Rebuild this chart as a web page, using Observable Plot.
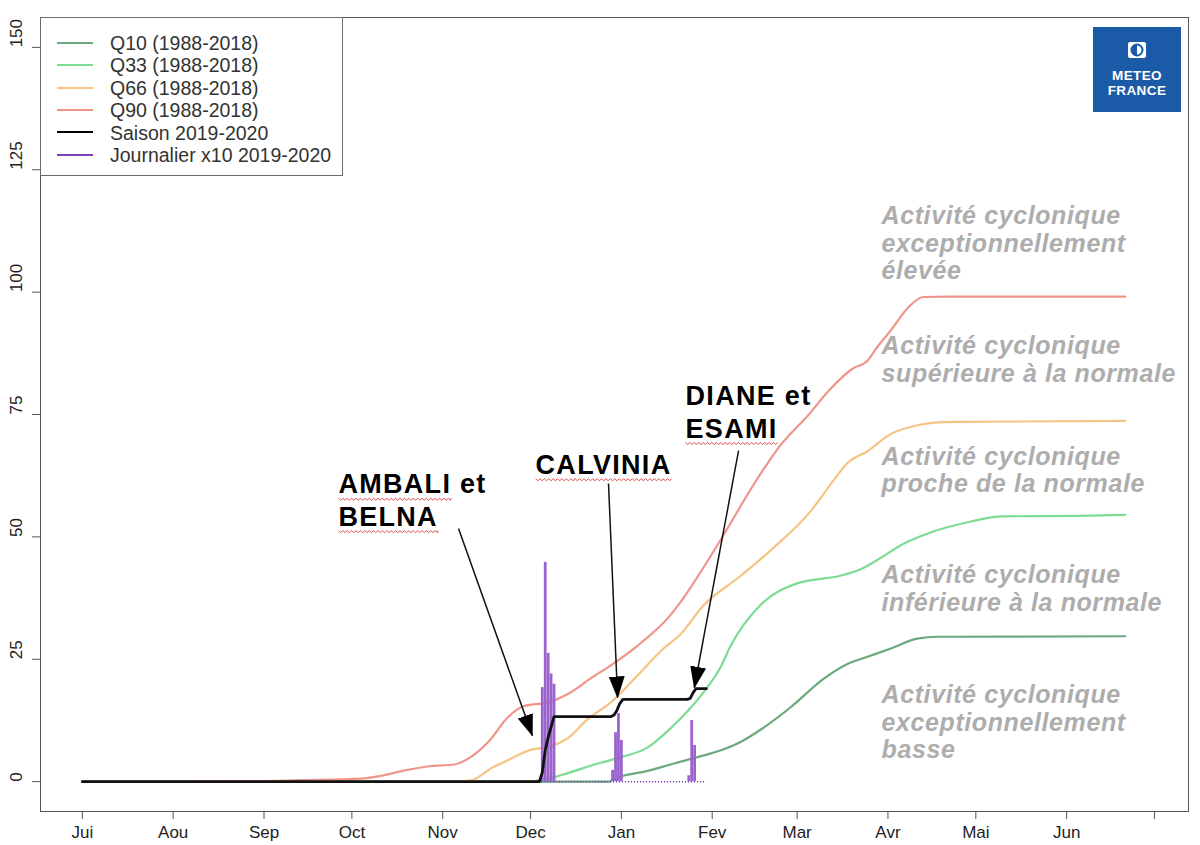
<!DOCTYPE html>
<html><head><meta charset="utf-8">
<script src="https://cdn.jsdelivr.net/npm/d3@7"></script>
<script src="https://cdn.jsdelivr.net/npm/@observablehq/plot@0.6"></script>
<style>
body{margin:0;background:#fff;}
#wrap{position:relative;width:1200px;height:845px;overflow:hidden;}
#legend{position:absolute;left:40px;top:17px;width:303px;height:159px;border:1px solid #6b6b6b;background:#fff;box-sizing:border-box;font-family:"Liberation Sans",Arial,sans-serif;font-size:19.5px;color:#333;}
.sw{position:absolute;left:16px;width:36px;height:0;border-top:2.5px solid;}
.lab{position:absolute;left:69px;white-space:nowrap;line-height:22px;}
#logo{position:absolute;left:1093px;top:27px;width:88px;height:85px;background:#1b5aa6;color:#fff;font-family:"Liberation Sans",Arial,sans-serif;font-weight:bold;text-align:center;}
#logo .t{position:absolute;left:0;width:88px;font-size:13.5px;line-height:14px;letter-spacing:0.4px;}
</style>
</head><body>
<div id="wrap"></div>
<script>
// ---- data (days counted from 1 July 2019) ----
const monthLabels = ["Jui","Aou","Sep","Oct","Nov","Dec","Jan","Fev","Mar","Avr","Mai","Jun",""];
const yTicks = [0, 25, 50, 75, 100, 125, 150];

const q10Days = [0, 180, 181, 193, 202, 210, 218, 225, 232, 242, 253, 261, 268, 276, 285, 292, 356];
const q10Vals = [0, 0, 0.5, 2.2, 3.7, 5.0, 6.4, 8.2, 10.8, 15.3, 21.0, 24.0, 25.5, 27.2, 29.2, 29.6, 29.7];

const q33Days = [0, 150, 159, 166, 176, 184, 193, 201, 209, 213, 218, 221, 232, 244, 259, 266, 272, 280, 290, 303, 314, 340, 356];
const q33Vals = [0, 0, 0.6, 1.8, 3.7, 5.0, 7.0, 11.0, 16.0, 19.0, 23.5, 27.4, 36.4, 40.5, 42.1, 43.5, 45.5, 48.5, 51.0, 53.1, 54.2, 54.3, 54.5];

const q66Days = [0, 127, 133, 140, 145, 153, 159, 166, 172, 181, 190, 198, 204, 212, 224, 236, 248, 257, 261, 268, 276, 285, 292, 300, 356];
const q66Vals = [0, 0, 0.3, 2.9, 4.3, 6.5, 7.1, 9.0, 12.5, 16.5, 22.0, 27.0, 30.0, 36.0, 41.7, 47.8, 54.8, 62.0, 65.0, 67.5, 71.0, 72.8, 73.4, 73.5, 73.7];

const q90Days = [0, 57, 74, 95, 102, 110, 119, 127, 132, 139, 145, 151, 159, 166, 174, 181, 190, 200, 204, 208, 218, 230, 238, 248, 255, 263, 268, 271, 276, 282, 287, 296, 356];
const q90Vals = [0, 0.1, 0.3, 0.6, 1.2, 2.3, 3.2, 3.5, 4.8, 8.4, 13.0, 15.5, 16.2, 18.0, 21.3, 24.0, 28.0, 33.5, 36.5, 40.0, 49.5, 61.5, 68.5, 75.0, 80.0, 84.4, 86.0, 88.5, 92.2, 96.9, 99.0, 99.1, 99.1];

const seasonDays = [0, 156, 157, 158, 159, 160, 161, 180.5, 181.5, 182.5, 183.5, 184.5, 206.5, 207.5, 208.5, 209.5, 213];
const seasonVals = [0, 0, 1.9, 6.4, 9.0, 11.2, 13.3, 13.3, 13.6, 14.6, 16.0, 16.8, 16.8, 17.0, 18.2, 19.0, 19.0];

const dailyDays = [157, 158, 159, 160, 161, 181, 182, 183, 184, 207, 208, 209];
const dailyVals = [19.2, 44.8, 26.2, 22.0, 19.9, 2.3, 10.0, 13.9, 8.4, 1.2, 12.5, 7.4];
const dailySpan = [0, 213];

const stormNames = ["AMBALI et\nBELNA", "CALVINIA", "DIANE et\nESAMI"];
const stormTextDay = [87.4, 154.7, 205.9];
const stormTextVal = [52.3, 62.9, 70.3];
const arrowFromDay = [128.4, 179.6, 224.0];
const arrowFromVal = [51.7, 60.9, 67.6];
const arrowToDay = [153.6, 182.7, 208.9];
const arrowToVal = [9.4, 17.2, 19.2];
const underlined = ["AMBALI", "BELNA", "CALVINIA", "ESAMI"];

const classLabels = [
  "Activité cyclonique\nexceptionnellement\nélevée",
  "Activité cyclonique\nsupérieure à la normale",
  "Activité cyclonique\nproche de la normale",
  "Activité cyclonique\ninférieure à la normale",
  "Activité cyclonique\nexceptionnellement\nbasse"
];
const classLabelDay = 272.8;
const classLabelVals = [102.6, 81.7, 59.1, 34.9, 4.8];

const seriesNames = ["Q10 (1988-2018)", "Q33 (1988-2018)", "Q66 (1988-2018)", "Q90 (1988-2018)", "Saison 2019-2020", "Journalier x10 2019-2020"];
const seriesColors = ["#6aaa7c", "#7ddc92", "#f6c384", "#ef958a", "#000000", "#7a3fb0"];

// ---- helpers ----
const seasonStart = Date.UTC(2019, 6, 1);
const toDate = d => new Date(seasonStart + d * 86400000);
const pts = (days, vals) => days.map((d, i) => ({x: toDate(d), y: vals[i]}));

const monthTicks = d3.utcMonth.range(toDate(0), toDate(367));
const monthFmt = d => monthLabels[d3.utcMonth.count(toDate(0), d)] ?? "";

const quantiles = [[q10Days, q10Vals], [q33Days, q33Vals], [q66Days, q66Vals], [q90Days, q90Vals]];
const daily = pts(dailyDays, dailyVals);
const stormText = stormNames.map((t, i) => ({t, x: toDate(stormTextDay[i]), y: stormTextVal[i]}));
const arrows = arrowFromDay.map((d, i) => ({x1: toDate(d), y1: arrowFromVal[i], x2: toDate(arrowToDay[i]), y2: arrowToVal[i]}));
const classText = classLabels.map((t, i) => ({t, x: toDate(classLabelDay), y: classLabelVals[i]}));

const plot = Plot.plot({
  width: 1200,
  height: 845,
  marginLeft: 40,
  marginRight: 12,
  marginTop: 17,
  marginBottom: 34,
  style: {fontFamily: "'Liberation Sans', Arial, sans-serif", fontSize: "17px", color: "#222", background: "#fff"},
  x: {type: "utc", domain: [toDate(-14.3), toDate(377.6)], label: null},
  y: {domain: [-6.1, 156.1], label: null},
  marks: [
    Plot.frame({stroke: "#555", strokeWidth: 1}),
    Plot.axisX({ticks: monthTicks, tickFormat: monthFmt, tickSize: 8, tickPadding: 6, stroke: "#555", fill: "#222"}),
    Plot.axisY({ticks: yTicks, tickFormat: () => "", tickSize: 8, stroke: "#555"}),
    Plot.text(yTicks, {y: d => d, text: d => String(d), frameAnchor: "left", dx: -24, rotate: -90, fill: "#222"}),
    ...quantiles.map(([d, v], i) => Plot.line(pts(d, v), {x: "x", y: "y", stroke: seriesColors[i], strokeWidth: 2.2, curve: "monotone-x"})),
    Plot.ruleY([{x1: toDate(dailySpan[0]), x2: toDate(dailySpan[1]), y: 0}], {x1: "x1", x2: "x2", y: "y", stroke: seriesColors[5], strokeWidth: 1.5, strokeDasharray: "1.2,1.8"}),
    Plot.ruleX(daily, {x: "x", y1: () => 0, y2: "y", stroke: "#9b63cc", strokeWidth: 2.8}),
    Plot.line(pts(seasonDays, seasonVals), {x: "x", y: "y", stroke: "#111", strokeWidth: 2.8, curve: "linear"}),
    Plot.text(classText, {x: "x", y: "y", text: "t", textAnchor: "start", lineAnchor: "bottom", lineHeight: 1.1, fontSize: 25, fontWeight: "bold", fontStyle: "italic", fill: "#adadad", className: "classlab"}),
    Plot.text(stormText, {x: "x", y: "y", text: "t", textAnchor: "start", lineAnchor: "bottom", lineHeight: 1.2, fontSize: 27, fontWeight: "bold", fill: "#000", className: "stormlab"}),
    Plot.link(arrows, {x1: "x1", y1: "y1", x2: "x2", y2: "y2", stroke: "#111", strokeWidth: 1.5})
  ]
});

const wrap = document.getElementById("wrap");
wrap.appendChild(plot);

const svg = d3.select(plot);
svg.selectAll("g.classlab text").style("letter-spacing", "0.6px");
svg.selectAll("g.stormlab text").style("letter-spacing", "1.3px");

// filled arrowheads on the annotation links
const defs = svg.insert("defs", ":first-child");
defs.append("marker").attr("id", "ahead").attr("markerUnits", "userSpaceOnUse")
  .attr("viewBox", "0 -9 22 18").attr("refX", 21).attr("refY", 0)
  .attr("markerWidth", 22).attr("markerHeight", 18).attr("orient", "auto")
  .append("path").attr("d", "M0,-8L22,0L0,8Z").attr("fill", "#000");
svg.selectAll('g[aria-label="link"] path').attr("marker-end", "url(#ahead)");

// red wavy spell-check underlines under storm names
svg.selectAll("g.stormlab text").each(function() {
  const textEl = this;
  const parts = textEl.querySelectorAll("tspan").length ? Array.from(textEl.querySelectorAll("tspan")) : [textEl];
  parts.forEach(part => {
    const s = part.textContent;
    underlined.forEach(w => {
      const k = s.indexOf(w);
      if (k < 0) return;
      const a = part.getStartPositionOfChar(k);
      const b = part.getEndPositionOfChar(k + w.length - 1);
      const yb = a.y + 5;
      let d = `M${a.x},${yb}`;
      for (let xx = a.x, j = 0; xx < b.x; xx += 2.2, j++) d += `L${Math.min(xx + 2.2, b.x)},${yb + (j % 2 ? 0 : 2)}`;
      const p = document.createElementNS("http://www.w3.org/2000/svg", "path");
      p.setAttribute("d", d);
      p.setAttribute("fill", "none");
      p.setAttribute("stroke", "#e0504a");
      p.setAttribute("stroke-width", "1");
      if (textEl.getAttribute("transform")) p.setAttribute("transform", textEl.getAttribute("transform"));
      textEl.parentNode.appendChild(p);
    });
  });
});

// legend (inside the plot area, top-left)
const legend = document.createElement("div");
legend.id = "legend";
const rowCenters = [25, 47.4, 69.8, 92.2, 114.6, 137];
seriesNames.forEach((name, i) => {
  const sw = document.createElement("div");
  sw.className = "sw";
  sw.style.top = (rowCenters[i] - 1.25) + "px";
  sw.style.borderTopColor = seriesColors[i];
  legend.appendChild(sw);
  const lab = document.createElement("div");
  lab.className = "lab";
  lab.style.top = (rowCenters[i] - 11) + "px";
  lab.textContent = name;
  legend.appendChild(lab);
});
wrap.appendChild(legend);

// logo
const logo = document.createElement("div");
logo.id = "logo";
logo.innerHTML = '<svg width="20" height="18" style="position:absolute;left:34px;top:14px"><rect x="1" y="1" width="18" height="16" rx="2" fill="#fff"/><circle cx="10" cy="9" r="5.5" fill="none" stroke="#1b5aa6" stroke-width="2"/><path d="M10,3.5 A5.5,5.5 0 0 0 10,14.5 Z" fill="#1b5aa6"/></svg>' +
  '<div class="t" style="top:42px">METEO</div><div class="t" style="top:57px">FRANCE</div>';
wrap.appendChild(logo);
</script>
</body></html>
